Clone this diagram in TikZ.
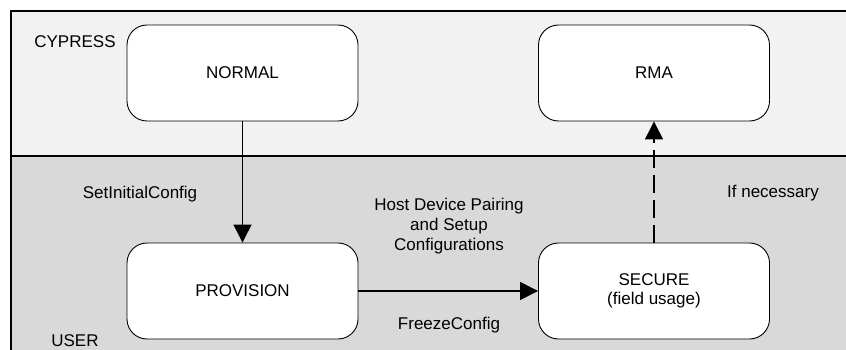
\documentclass[tikz,border=0pt]{standalone}
\usepackage{fontspec}
\setmainfont{Liberation Sans}
\usetikzlibrary{arrows.meta}

\definecolor{vendorband}{HTML}{F2F2F2}
\definecolor{userband}{HTML}{D9D9D9}

\tikzset{
  statebox/.style={draw=black, line width=0.9pt, fill=white, rounded corners=20pt,
    minimum width=231pt, minimum height=96pt, inner sep=0pt, align=center},
  lbl/.style={inner sep=0pt, align=center},
  flow/.style={line width=1.3pt, -{Triangle[length=18pt, width=18pt]}},
  optflow/.style={flow, dash pattern=on 18pt off 7pt},
  frameline/.style={line width=1.8pt},
}

\begin{document}
\begin{tikzpicture}[x=1pt, y=-1pt, font=\fontsize{17}{20}\selectfont]
  \useasboundingbox (0,0) rectangle (846,350);
  \begin{scope}
    \clip (0,0) rectangle (846,350);
    % swim lanes
    \fill[vendorband] (11,11) rectangle (860,156);
    \fill[userband] (11,156) rectangle (860,360);
    \draw[frameline] (860,11) -- (11,11) -- (11,360);
    \draw[frameline] (11,156) -- (860,156);
  \end{scope}

  % lane titles
  \node[lbl, anchor=base] (cypress) at (75,47.5) {CYPRESS};
  \node[lbl, anchor=base] (user) at (75,346.5) {USER};

  % states
  \node[statebox] (normal) at (242.5,73) {NORMAL};
  \node[statebox] (rma) at (654,73) {RMA};
  \node[statebox] (provision) at (242.5,291) {PROVISION};
  \node[statebox, font=\fontsize{17}{18.5}\selectfont] (secure) at (654,291) {SECURE\\(field usage)};

  % transitions
  \draw[flow] (normal) -- (provision);
  \draw[flow] (provision) -- (secure);
  \draw[optflow] (secure) -- (rma);

  % transition labels
  \node[lbl, anchor=base] (setinit) at (140,198.5) {SetInitialConfig};
  \node[lbl] (pairing) at (449,226) {Host Device Pairing\\and Setup\\Configurations};
  \node[lbl, anchor=base] (freeze) at (449,329) {FreezeConfig};
  \node[lbl, anchor=base] (ifnec) at (773,197.5) {If necessary};
\end{tikzpicture}
\end{document}
